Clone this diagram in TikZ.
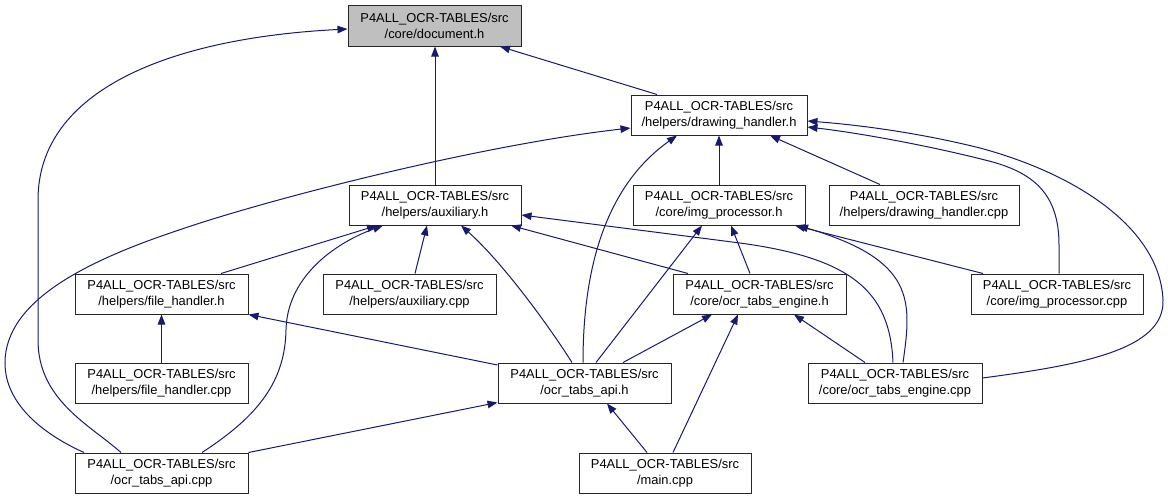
\documentclass[tikz,border=0pt]{standalone}
\usepackage{fontspec}
\setmainfont{Liberation Sans}
\usetikzlibrary{arrows.meta}
\definecolor{navy}{RGB}{25,25,112}
\definecolor{docgray}{RGB}{191,191,191}
\tikzset{
  box/.style={draw=black!85, line width=1pt, fill=white, minimum height=40pt, inner sep=0pt,
    align=center, font=\fontsize{12.9}{15.8}\selectfont},
  dep/.style={draw=navy, line width=1pt, -{Triangle[length=10pt,width=7.5pt]}}
}
\begin{document}
\begin{tikzpicture}[x=1pt,y=-1pt]
\useasboundingbox (0,0) rectangle (1168,499);
\node[box, fill=docgray, minimum width=173pt, minimum height=41pt] (doc) at (434.5,25.5) {P4ALL\_OCR-TABLES/src\\/core/document.h};
\node[box, minimum width=176pt] (dh) at (719,115) {P4ALL\_OCR-TABLES/src\\/helpers/drawing\_handler.h};
\node[box, minimum width=172pt] (aux) at (435,205) {P4ALL\_OCR-TABLES/src\\/helpers/auxiliary.h};
\node[box, minimum width=172pt] (imgh) at (719,205) {P4ALL\_OCR-TABLES/src\\/core/img\_processor.h};
\node[box, minimum width=190pt] (dhcpp) at (924,205) {P4ALL\_OCR-TABLES/src\\/helpers/drawing\_handler.cpp};
\node[box, minimum width=173pt] (fhh) at (161.5,294) {P4ALL\_OCR-TABLES/src\\/helpers/file\_handler.h};
\node[box, minimum width=173pt] (auxcpp) at (409.5,294) {P4ALL\_OCR-TABLES/src\\/helpers/auxiliary.cpp};
\node[box, minimum width=173pt] (engh) at (759.5,294) {P4ALL\_OCR-TABLES/src\\/core/ocr\_tabs\_engine.h};
\node[box, minimum width=172pt] (imgcpp) at (1057,294) {P4ALL\_OCR-TABLES/src\\/core/img\_processor.cpp};
\node[box, minimum width=173pt] (fhcpp) at (161.5,383) {P4ALL\_OCR-TABLES/src\\/helpers/file\_handler.cpp};
\node[box, minimum width=173pt] (apih) at (584.5,383) {P4ALL\_OCR-TABLES/src\\/ocr\_tabs\_api.h};
\node[box, minimum width=174pt] (engcpp) at (895,383) {P4ALL\_OCR-TABLES/src\\/core/ocr\_tabs\_engine.cpp};
\node[box, minimum width=173pt] (apicpp) at (161.5,473) {P4ALL\_OCR-TABLES/src\\/ocr\_tabs\_api.cpp};
\node[box, minimum width=172pt] (main) at (665,473) {P4ALL\_OCR-TABLES/src\\/main.cpp};

% to document.h
\draw[dep] ([xshift=-62pt]dh.north) -- ([xshift=65.5pt]doc.south);
\draw[dep] (aux.north) -- (aux.north |- doc.south);
\draw[dep] ([xshift=-40.5pt]apicpp.north) .. controls (90,425) and (38,400) .. (38,340) -- (38,200) .. controls (38,90) and (170,38) .. ([yshift=-3.5pt]doc.west);
% to drawing_handler.h
\draw[dep] ([xshift=-77.5pt]apicpp.north) .. controls (45,435) and (5,405) .. (5,363) .. controls (5,300) and (89,260) .. (179,230) .. controls (269,199) and (480,145) .. ([yshift=-13pt]dh.west);
\draw[dep] ([xshift=-1.5pt]apih.north) .. controls (583,280) and (600,190) .. ([xshift=-42pt]dh.south);
\draw[dep] (imgh.north) -- (dh.south);
\draw[dep] ([xshift=-44pt]dhcpp.north) -- ([xshift=51pt]dh.south);
\draw[dep] ([xshift=2pt]imgcpp.north) -- (1059,245) .. controls (1059,195) and (1035,172) .. (985,160) .. controls (930,146) and (860,133) .. ([yshift=-12pt]dh.east);
\draw[dep] ([yshift=5pt]engcpp.east) .. controls (1080,365) and (1165,350) .. (1163,300) .. controls (1160,230) and (1080,175) .. (980,148) .. controls (920,133) and (860,125) .. ([yshift=-6pt]dh.east);
% to auxiliary.h
\draw[dep] ([xshift=59.5pt]fhh.north) -- ([xshift=-58pt]aux.south);
\draw[dep] ([xshift=40.5pt]apicpp.north) .. controls (260,415) and (285,380) .. (286,330) .. controls (287,280) and (330,245) .. ([xshift=-52pt]aux.south);
\draw[dep] ([xshift=5.5pt]auxcpp.north) -- ([xshift=-8pt]aux.south);
\draw[dep] ([xshift=-12.5pt]apih.north) .. controls (545,320) and (500,260) .. ([xshift=26pt]aux.south);
\draw[dep] ([xshift=-71.5pt]engh.north) -- ([xshift=76pt]aux.south);
\draw[dep] ([xshift=-2pt]engcpp.north) .. controls (890,290) and (850,258) .. (740,243) -- ([yshift=-10pt]aux.east);
% to img_processor.h
\draw[dep] ([xshift=-9.5pt]engh.north) -- ([xshift=12pt]imgh.south);
\draw[dep] ([xshift=11.5pt]apih.north) -- ([xshift=-17pt]imgh.south);
\draw[dep] ([xshift=-74pt]imgcpp.north) -- ([xshift=76pt]imgh.south);
\draw[dep] ([xshift=8pt]engcpp.north) .. controls (912,300) and (915,260) .. ([xshift=79pt]imgh.south);
% to file_handler.h
\draw[dep] (fhcpp.north) -- (fhh.south);
\draw[dep] ([yshift=18pt]apih.west) -- (fhh.south east);
% to ocr_tabs_engine.h
\draw[dep] ([xshift=38.5pt]apih.north) -- ([xshift=-47.5pt]engh.south);
\draw[dep] ([xshift=8pt]main.north) -- ([xshift=-21.5pt]engh.south);
\draw[dep] ([xshift=-30pt]engcpp.north) -- ([xshift=34.5pt]engh.south);
% to ocr_tabs_api.h
\draw[dep] (apicpp.north east) -- ([yshift=1pt]apih.south west);
\draw[dep] ([xshift=-18pt]main.north) -- ([xshift=22.5pt]apih.south);
\end{tikzpicture}
\end{document}
